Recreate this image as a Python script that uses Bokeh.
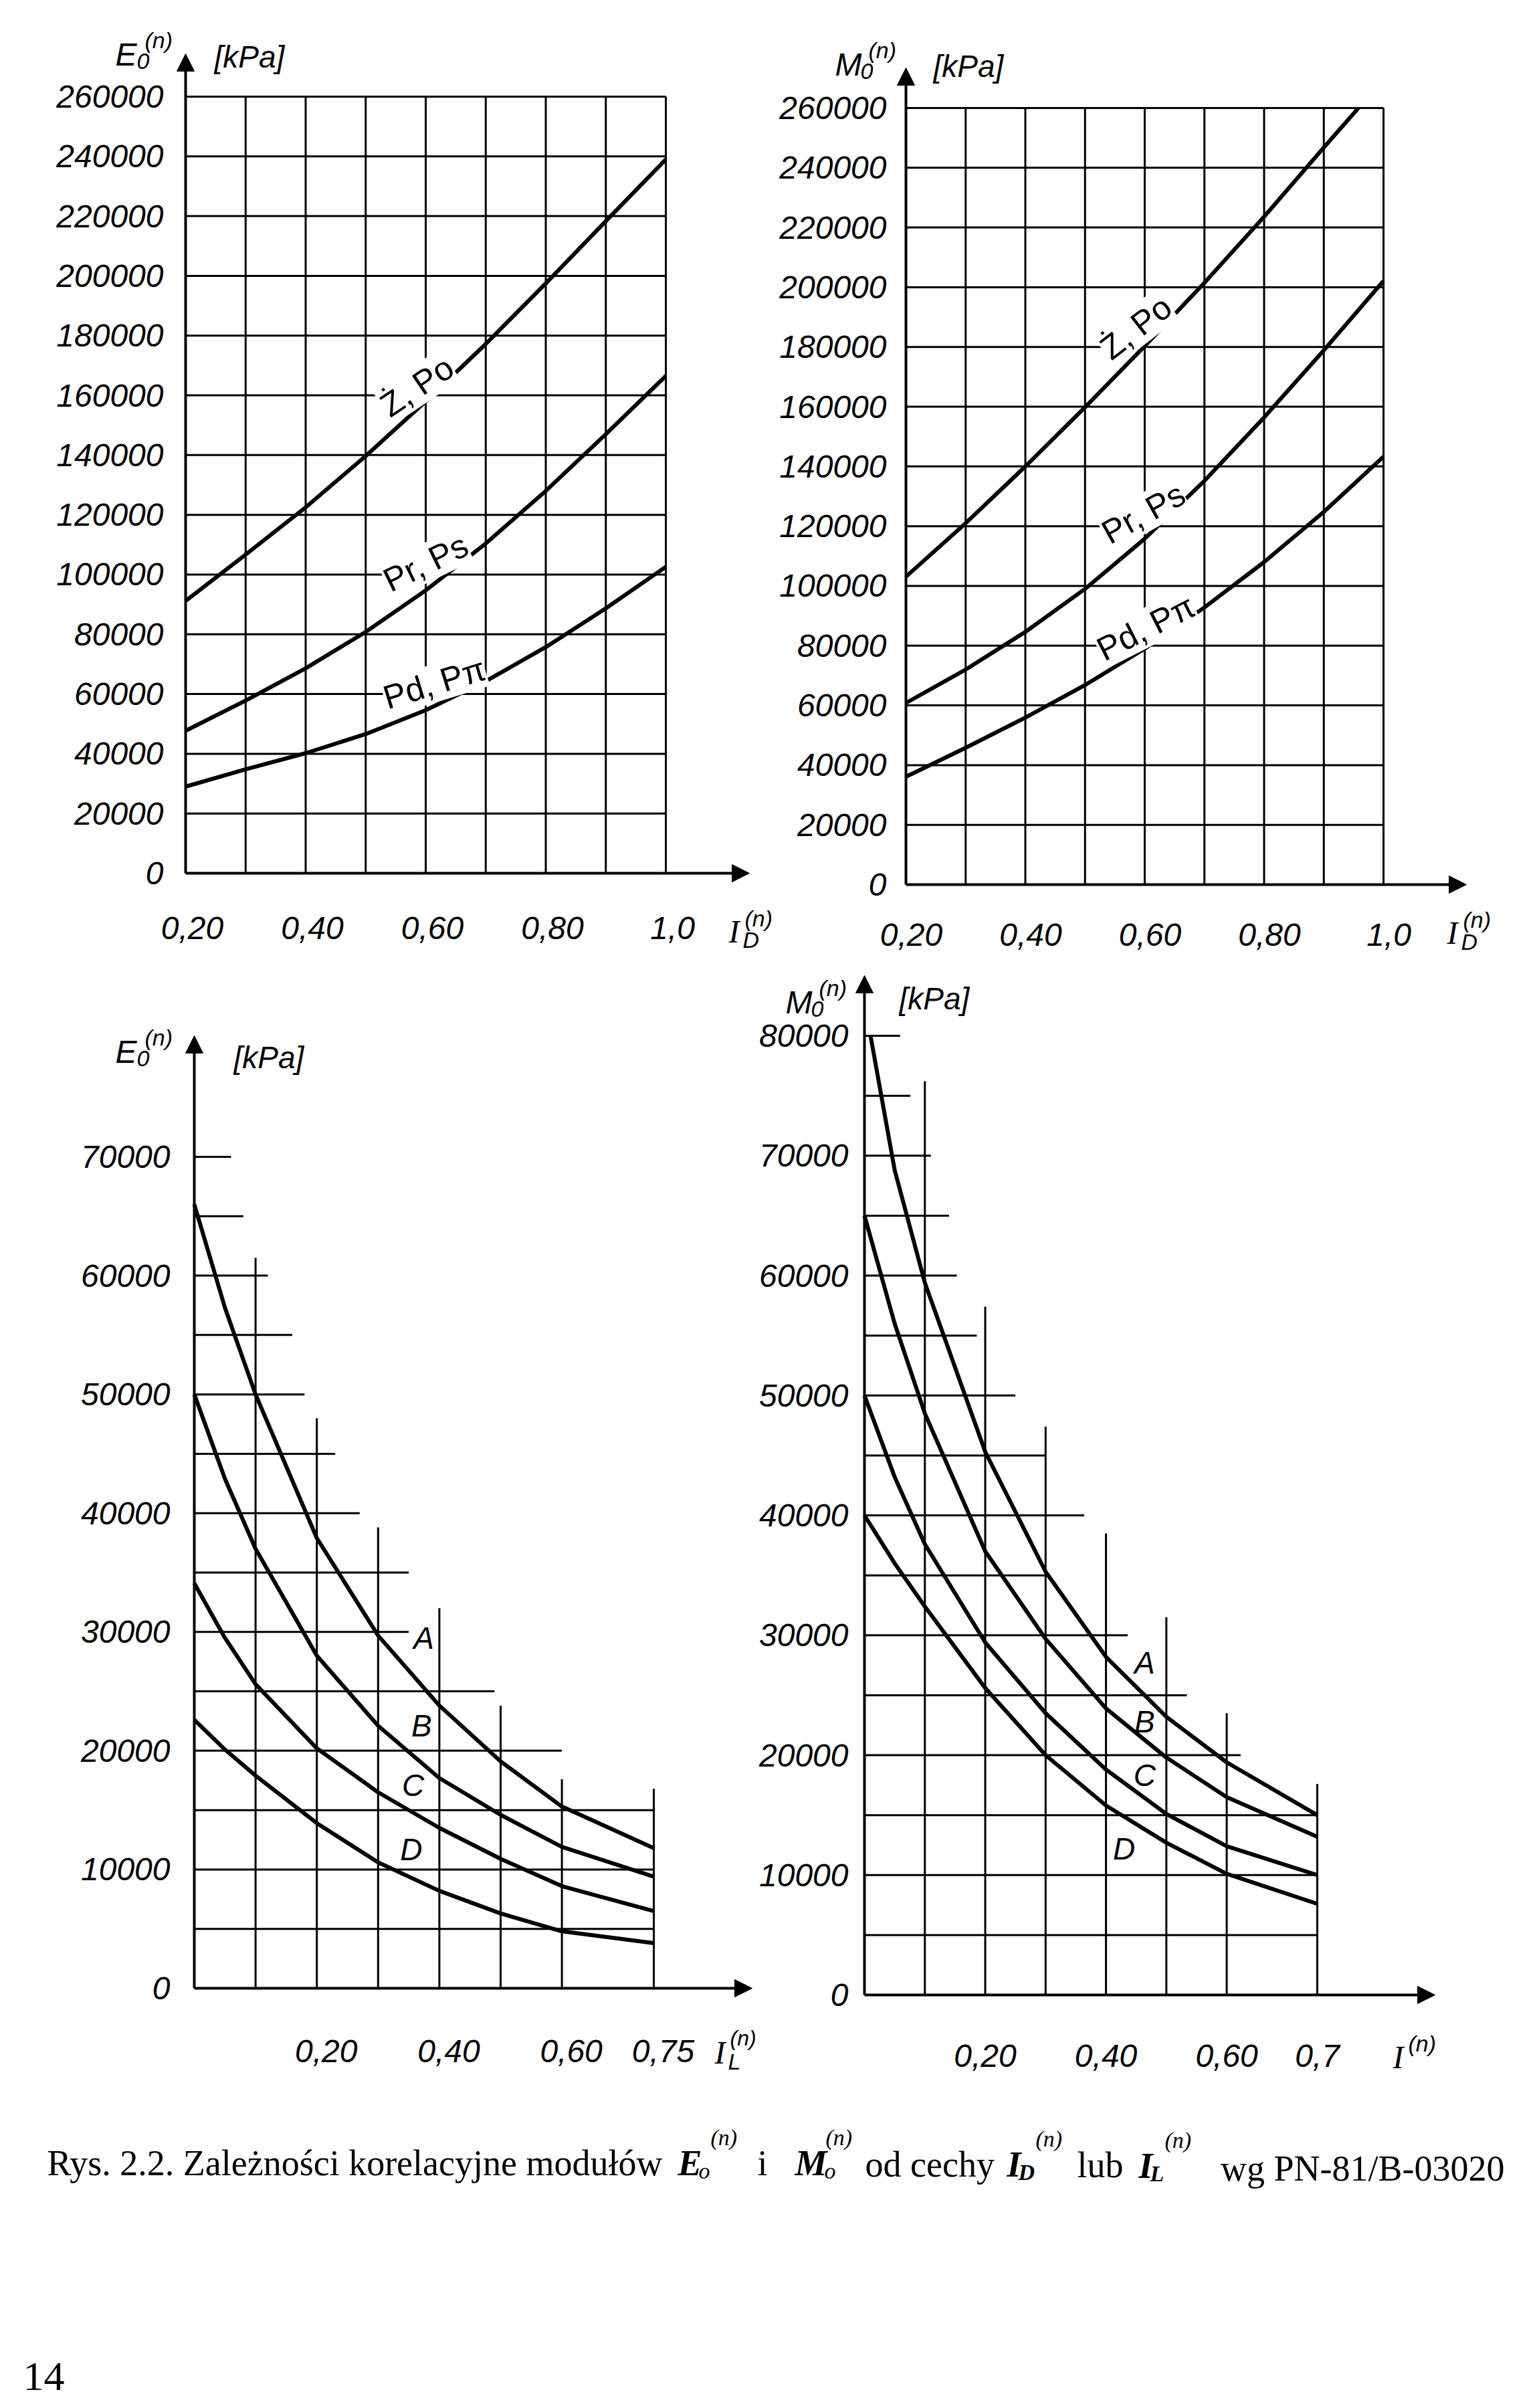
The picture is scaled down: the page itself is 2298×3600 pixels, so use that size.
from bokeh.plotting import figure
from bokeh.models import Range1d, Label, Arrow, NormalHead
from bokeh.core.properties import value
from bokeh.layouts import column, row
from bokeh.embed import file_html
from bokeh.resources import INLINE

# ---------------- data ----------------
# top panels: x = I_D
top_x = [0.2, 0.3, 0.4, 0.5, 0.6, 0.7, 0.8, 0.9, 1.0]
E_ZPo = [91200, 106700, 122500, 139700, 158000, 177200, 197500, 218300, 239000]
E_PrPs = [47700, 57800, 68600, 80800, 94700, 110400, 128000, 147000, 166500]
E_PdPpi = [29000, 34800, 40200, 46600, 54600, 64300, 75700, 88700, 102600]

M_ZPo_x = [0.2, 0.3, 0.4, 0.5, 0.6, 0.7, 0.8, 0.9, 0.958]
M_ZPo = [103100, 121000, 140000, 159800, 180300, 201500, 223600, 246800, 260000]
M_PrPs = [60800, 72000, 84600, 99000, 115800, 135200, 156400, 178900, 202100]
M_PdPpi = [36100, 45800, 55900, 66800, 79000, 92800, 108000, 124800, 143300]

top_xticks = [0.2, 0.4, 0.6, 0.8, 1.0]
top_xlabels = ["0,20", "0,40", "0,60", "0,80", "1,0"]
top_yticks = [0, 20000, 40000, 60000, 80000, 100000, 120000, 140000, 160000,
              180000, 200000, 220000, 240000, 260000]
top_ylabels = [str(v) for v in top_yticks]
top_grid_x = [0.3, 0.4, 0.5, 0.6, 0.7, 0.8, 0.9, 1.0]
top_grid_y = [20000, 40000, 60000, 80000, 100000, 120000, 140000, 160000,
              180000, 200000, 220000, 240000, 260000]

# bottom-left: E vs I_L
bl_x = [0.0, 0.05, 0.1, 0.2, 0.3, 0.4, 0.5, 0.6, 0.75]
E_A = [66000, 57300, 50000, 37900, 29700, 23800, 19100, 15300, 11800]
E_B = [50000, 42900, 37000, 28000, 22100, 17700, 14600, 11900, 9400]
E_C = [34100, 29500, 25600, 20200, 16500, 13500, 10900, 8600, 6500]
E_D = [22600, 20100, 17900, 13900, 10600, 8200, 6300, 4800, 3800]
bl_xticks = [0.2, 0.4, 0.6, 0.75]
bl_xlabels = ["0,20", "0,40", "0,60", "0,75"]
bl_yticks = [0, 10000, 20000, 30000, 40000, 50000, 60000, 70000]
bl_ylabels = [str(v) for v in bl_yticks]
bl_h_y = [5000, 10000, 15000, 20000, 25000, 30000, 35000, 40000, 45000,
          50000, 55000, 60000, 65000, 70000]
bl_h_xend = [0.75, 0.75, 0.75, 0.60, 0.49, 0.35, 0.35, 0.27, 0.23, 0.18, 0.16, 0.12, 0.08, 0.06]
bl_v_x = [0.1, 0.2, 0.3, 0.4, 0.5, 0.6, 0.75]
bl_v_ytop = [61500, 48000, 38800, 32000, 23800, 17600, 16800]

# bottom-right: M vs I
br_xA = [0.01, 0.05, 0.1, 0.2, 0.3, 0.4, 0.5, 0.6, 0.75]
br_x = [0.0, 0.05, 0.1, 0.2, 0.3, 0.4, 0.5, 0.6, 0.75]
M_A = [80000, 68800, 59400, 45300, 35300, 28200, 23200, 19400, 15000]
M_B = [65000, 56000, 48500, 37000, 29700, 23900, 19800, 16500, 13200]
M_C = [50000, 43200, 37600, 29400, 23500, 18800, 15100, 12400, 10000]
M_D = [40000, 36000, 32400, 25600, 20000, 15800, 12700, 10100, 7600]
br_xticks = [0.2, 0.4, 0.6, 0.75]
br_xlabels = ["0,20", "0,40", "0,60", "0,7"]
br_yticks = [0, 10000, 20000, 30000, 40000, 50000, 60000, 70000, 80000]
br_ylabels = [str(v) for v in br_yticks]
br_h_y = [5000, 10000, 15000, 20000, 25000, 30000, 35000, 40000, 45000,
          50000, 55000, 60000, 65000, 70000, 75000, 80000]
br_h_xend = [0.75, 0.75, 0.75, 0.623, 0.534, 0.436, 0.305, 0.364, 0.30,
             0.25, 0.186, 0.153, 0.14, 0.11, 0.076, 0.059]
br_v_x = [0.1, 0.2, 0.3, 0.4, 0.5, 0.6, 0.75]
br_v_ytop = [76200, 57400, 47400, 38500, 31500, 23500, 17600]

# ---------------- styling ----------------
SANS = "Liberation Sans"
SERIF = "Liberation Serif"
GRID_W = 3
AXIS_W = 4
CURVE_W = 6


def make_panel(canvas, xmap, ymap):
    """Figure whose frame fills its canvas; xmap/ymap tie data values to page pixels."""
    cl, ct, W, H = canvas
    (xa, sxa), (xb, sxb) = xmap
    (ya, sya), (yb, syb) = ymap
    kx = (sxb - sxa) / (xb - xa)
    ky = (sya - syb) / (yb - ya)

    def X(s):
        return xa + (s - sxa) / kx

    def Y(s):
        return ya + (sya - s) / ky

    p = figure(width=W, height=H, title=None,
               x_range=Range1d(X(cl), X(cl + W)), y_range=Range1d(Y(ct + H), Y(ct)),
               min_border=0, x_axis_location=None, y_axis_location=None,
               output_backend="svg", toolbar_location=None, tools="")
    p.outline_line_color = None
    p.background_fill_color = "white"
    p.border_fill_color = "white"
    p.grid.visible = False
    return p, X, Y


def tick_labels(p, X, Y, xticks, xlabels, x_base, x_dx, yticks, ylabels, y_right):
    p.text(x=xticks, y=[Y(x_base)] * len(xticks), text=xlabels, x_offset=x_dx,
           text_align="center", text_baseline="alphabetic", text_font=value(SANS),
           text_font_style="italic", text_font_size="48px", text_color="black")
    p.text(x=[X(y_right)] * len(yticks), y=yticks, text=ylabels,
           text_align="right", text_baseline="middle", text_font=value(SANS),
           text_font_style="italic", text_font_size="48px", text_color="black")


def txt(p, X, Y, sx, sy, text, size, font=SANS, style="italic"):
    p.add_layout(Label(x=X(sx), y=Y(sy), text=text, text_font=font,
                       text_font_style=style, text_font_size=f"{size}px",
                       text_align="left", text_baseline="alphabetic",
                       text_color="black"))


def curve_label(p, x, y, text, angle, size=50, style="normal", bg=True):
    kw = dict(background_fill_color="white") if bg else {}
    p.add_layout(Label(x=x, y=y, text=text, angle=angle, angle_units="deg",
                       text_align="center", text_baseline="middle",
                       text_font=SANS, text_font_style=style,
                       text_font_size=f"{size}px", text_color="black", **kw))


def axes_arrows(p, x0, y0, xtip, ytip):
    p.add_layout(Arrow(end=NormalHead(size=26, fill_color="black", line_color="black"),
                       x_start=x0, y_start=y0, x_end=x0, y_end=ytip,
                       line_width=AXIS_W, line_color="black"))
    p.add_layout(Arrow(end=NormalHead(size=26, fill_color="black", line_color="black"),
                       x_start=x0, y_start=y0, x_end=xtip, y_end=y0,
                       line_width=AXIS_W, line_color="black"))


def title_sub_sup(p, X, Y, sx, sy, main, sub, sup, main_w):
    txt(p, X, Y, sx, sy, main, 48)
    txt(p, X, Y, sx + main_w - 4, sy + 10, sub, 34)
    txt(p, X, Y, sx + main_w + 8, sy - 22, sup, 34)


# ---------------- top-left: E vs I_D ----------------
p1, X1, Y1 = make_panel((8, 8, 1157, 1432), ((0.2, 285), (1.0, 1003)), ((0, 1313), (260000, 152)))
p1.segment(x0=top_grid_x, y0=[0] * len(top_grid_x), x1=top_grid_x,
           y1=[top_grid_y[-1]] * len(top_grid_x), line_width=GRID_W, color="black")
p1.segment(x0=[top_x[0]] * len(top_grid_y), y0=top_grid_y, x1=[top_x[-1]] * len(top_grid_y),
           y1=top_grid_y, line_width=GRID_W, color="black")
for ys in (E_ZPo, E_PrPs, E_PdPpi):
    p1.line(top_x, ys, line_width=CURVE_W, color="black", line_join="round")
axes_arrows(p1, 0.2, 0, X1(1128), Y1(88))
tick_labels(p1, X1, Y1, top_xticks, top_xlabels, 1395, 10, top_yticks, top_ylabels, 252)
curve_label(p1, 0.5855, 163000, "Ż, Po", 34)
curve_label(p1, 0.600, 103900, "Pr, Ps", 26)
curve_label(p1, 0.6145, 63600, "Pd, Pπ", 17)
title_sub_sup(p1, X1, Y1, 180, 89, "E", "0", "(n)", 36)
txt(p1, X1, Y1, 328, 92, "[kPa]", 46)
txt(p1, X1, Y1, 1097, 1400, "I", 48, font=SERIF)
txt(p1, X1, Y1, 1118, 1412, "D", 34)
txt(p1, X1, Y1, 1121, 1380, "(n)", 34)

# ---------------- top-right: M vs I_D ----------------
p2, X2, Y2 = make_panel((1165, 8, 1125, 1432), ((0.2, 1362), (1.0, 2076)), ((0, 1330), (260000, 169)))
p2.segment(x0=top_grid_x, y0=[0] * len(top_grid_x), x1=top_grid_x,
           y1=[top_grid_y[-1]] * len(top_grid_x), line_width=GRID_W, color="black")
p2.segment(x0=[top_x[0]] * len(top_grid_y), y0=top_grid_y, x1=[top_x[-1]] * len(top_grid_y),
           y1=top_grid_y, line_width=GRID_W, color="black")
p2.line(M_ZPo_x, M_ZPo, line_width=CURVE_W, color="black", line_join="round")
p2.line(top_x, M_PrPs, line_width=CURVE_W, color="black", line_join="round")
p2.line(top_x, M_PdPpi, line_width=CURVE_W, color="black", line_join="round")
axes_arrows(p2, 0.2, 0, X2(2200), Y2(109))
tick_labels(p2, X2, Y2, top_xticks, top_xlabels, 1405, 8, top_yticks, top_ylabels, 1333)
curve_label(p2, 0.5854, 186500, "Ż, Po", 38)
curve_label(p2, 0.5978, 124300, "Pr, Ps", 29)
curve_label(p2, 0.6022, 86000, "Pd, Pπ", 27)
title_sub_sup(p2, X2, Y2, 1256, 104, "M", "0", "(n)", 42)
txt(p2, X2, Y2, 1403, 106, "[kPa]", 46)
txt(p2, X2, Y2, 2171, 1402, "I", 48, font=SERIF)
txt(p2, X2, Y2, 2192, 1415, "D", 34)
txt(p2, X2, Y2, 2195, 1382, "(n)", 34)

# ---------------- bottom-left: E vs I_L ----------------
p3, X3, Y3 = make_panel((8, 1440, 1134, 1680), ((0.0, 298), (0.75, 985)), ((0, 2980), (70000, 1737)))
p3.segment(x0=[0] * len(bl_h_y), y0=bl_h_y, x1=bl_h_xend, y1=bl_h_y,
           line_width=GRID_W, color="black")
p3.segment(x0=bl_v_x, y0=[0] * len(bl_v_x), x1=bl_v_x, y1=bl_v_ytop,
           line_width=GRID_W, color="black")
for ys in (E_A, E_B, E_C, E_D):
    p3.line(bl_x, ys, line_width=CURVE_W, color="black", line_join="round")
axes_arrows(p3, 0, 0, X3(1132), Y3(1556))
tick_labels(p3, X3, Y3, bl_xticks, bl_xlabels, 3074, 14, bl_yticks, bl_ylabels, 262)
for t, x, y in (("A", 0.3745, 29500), ("B", 0.371, 22100), ("C", 0.357, 17100), ("D", 0.354, 11700)):
    curve_label(p3, x, y, t, 0, size=46, style="italic", bg=False)
title_sub_sup(p3, X3, Y3, 180, 1580, "E", "0", "(n)", 36)
txt(p3, X3, Y3, 357, 1588, "[kPa]", 46)
txt(p3, X3, Y3, 1076, 3076, "I", 48, font=SERIF)
txt(p3, X3, Y3, 1096, 3089, "L", 34)
txt(p3, X3, Y3, 1099, 3054, "(n)", 32)

# ---------------- bottom-right: M vs I ----------------
p4, X4, Y4 = make_panel((1142, 1440, 1148, 1680), ((0.0, 1300), (0.75, 1977)), ((0, 2990), (80000, 1556)))
p4.segment(x0=[0] * len(br_h_y), y0=br_h_y, x1=br_h_xend, y1=br_h_y,
           line_width=GRID_W, color="black")
p4.segment(x0=br_v_x, y0=[0] * len(br_v_x), x1=br_v_x, y1=br_v_ytop,
           line_width=GRID_W, color="black")
p4.line(br_xA, M_A, line_width=CURVE_W, color="black", line_join="round")
for ys in (M_B, M_C, M_D):
    p4.line(br_x, ys, line_width=CURVE_W, color="black", line_join="round")
axes_arrows(p4, 0, 0, X4(2153), Y4(1466))
tick_labels(p4, X4, Y4, br_xticks, br_xlabels, 3081, 0, br_yticks, br_ylabels, 1276)
for t, x, y in (("A", 0.464, 27700), ("B", 0.464, 22800), ("C", 0.464, 18300), ("D", 0.430, 12200)):
    curve_label(p4, x, y, t, 0, size=46, style="italic", bg=False)
title_sub_sup(p4, X4, Y4, 1182, 1506, "M", "0", "(n)", 42)
txt(p4, X4, Y4, 1352, 1500, "[kPa]", 46)
txt(p4, X4, Y4, 2090, 3083, "I", 48, font=SERIF)
txt(p4, X4, Y4, 2113, 3062, "(n)", 34)

# ---------------- caption ----------------
p5 = figure(width=2282, height=472, title=None, x_range=Range1d(8, 2290),
            y_range=Range1d(3592, 3120), min_border=0, output_backend="svg",
            toolbar_location=None, tools="", x_axis_location=None, y_axis_location=None)
p5.outline_line_color = None
p5.grid.visible = False
p5.background_fill_color = "white"
p5.border_fill_color = "white"

BASE = 3241
caption = [
    ("Rys. 2.2. Zależności korelacyjne modułów", 998, BASE, 54, "normal", "right"),
    ("E", 1021, BASE, 54, "bold italic", "left"),
    ("o", 1052, BASE + 12, 34, "italic", "left"),
    ("(n)", 1070, BASE - 38, 34, "italic", "left"),
    ("i", 1140, BASE, 54, "normal", "left"),
    ("M", 1196, BASE, 54, "bold italic", "left"),
    ("o", 1240, BASE + 12, 34, "italic", "left"),
    ("(n)", 1242, BASE - 38, 34, "italic", "left"),
    ("od cechy", 1301, BASE + 2, 54, "normal", "left"),
    ("I", 1513, BASE + 2, 54, "bold italic", "left"),
    ("D", 1530, BASE + 14, 34, "bold italic", "left"),
    ("(n)", 1556, BASE - 36, 34, "italic", "left"),
    ("lub", 1618, BASE + 3, 54, "normal", "left"),
    ("I", 1710, BASE + 4, 54, "bold italic", "left"),
    ("L", 1727, BASE + 16, 34, "bold italic", "left"),
    ("(n)", 1749, BASE - 34, 34, "italic", "left"),
    ("wg PN-81/B-03020", 2257, BASE + 8, 54, "normal", "right"),
    ("14", 42, 3560, 62, "normal", "left"),
]
for t, x, y, s, st, al in caption:
    p5.add_layout(Label(x=x, y=y, text=t, text_font=SERIF, text_font_style=st,
                        text_font_size=f"{s}px", text_align=al, text_baseline="alphabetic",
                        text_color="black"))

layout = column(row(p1, p2), row(p3, p4), p5)
open("out.html", "w").write(file_html(layout, INLINE))
